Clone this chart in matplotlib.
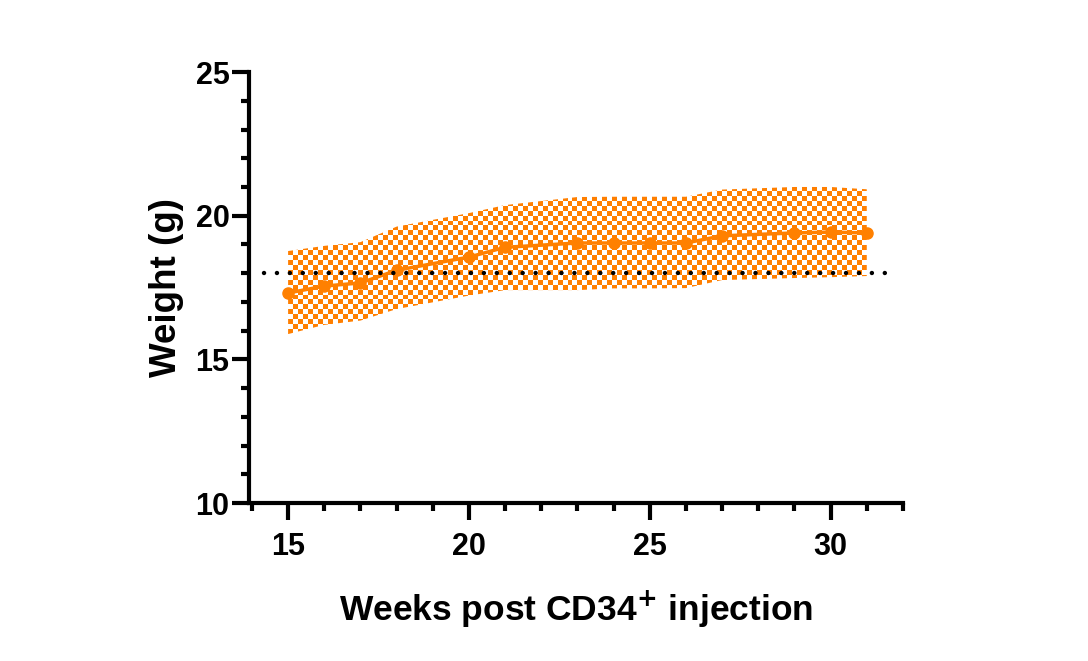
import numpy as np
import matplotlib.pyplot as plt

plt.rcParams['font.family'] = ['Liberation Sans', 'DejaVu Sans']
plt.rcParams['font.weight'] = 'bold'

# data
weeks = [15, 16, 17, 18, 20, 21, 23, 24, 25, 26, 27, 29, 30, 31]
mean_weight = [17.31, 17.55, 17.66, 18.10, 18.56, 18.90, 19.05, 19.05, 19.05, 19.05, 19.30, 19.40, 19.43, 19.40]
upper = [18.77, 18.95, 19.08, 19.62, 20.09, 20.37, 20.65, 20.66, 20.66, 20.66, 20.91, 21.0, 21.0, 20.92]
lower = [15.88, 16.20, 16.35, 16.75, 17.22, 17.41, 17.41, 17.47, 17.47, 17.48, 17.76, 17.83, 17.86, 17.90]
threshold = 18

orange = '#FF8000'

fig = plt.figure(figsize=(10.88, 6.61), dpi=100)
ax = fig.add_axes([0.2289, 0.239, 0.601, 0.652])

# checkerboard band: image clipped to the fill_between polygon
band = ax.fill_between(weeks, lower, upper, facecolor='none', edgecolor='none')
nx, ny = 116, 30
yy, xx = np.indices((ny, nx))
checker = np.zeros((ny, nx, 4))
on = (xx + yy) % 2 == 0
checker[on] = [1.0, 0.5, 0.0, 1.0]
img = ax.imshow(checker, extent=(15, 31, min(lower), max(upper)), origin='lower',
                aspect='auto', interpolation='nearest', zorder=1)
img.set_clip_path(band.get_paths()[0], transform=ax.transData)

ax.plot(weeks, mean_weight, color=orange, lw=2.5, marker='o', ms=8, zorder=3)
ax.plot([14.33, 31.55], [threshold, threshold], color='black', lw=3.2,
        linestyle=(0, (0.01, 2.9)), dash_capstyle='round', zorder=4)

ax.set_xlim(13.92, 32)
ax.set_ylim(10, 25)
ax.set_xticks([15, 20, 25, 30])
ax.set_xticks(range(14, 33), minor=True)
ax.set_yticks([10, 15, 20, 25])
ax.set_yticks(range(10, 26), minor=True)

for s in ['top', 'right']:
    ax.spines[s].set_visible(False)
for s in ['left', 'bottom']:
    ax.spines[s].set_linewidth(3)
ax.tick_params(which='major', length=12, width=3, labelsize=22)
ax.tick_params(axis='y', which='major', pad=2)
ax.tick_params(axis='x', which='major', pad=9)
ax.tick_params(which='minor', length=6, width=3)

ax.set_xlabel('Weeks post CD34$^{\\mathbf{+}}$ injection', fontsize=25.5, fontweight='bold', labelpad=19)
ax.set_ylabel('Weight (g)', fontsize=26.5, fontweight='bold', labelpad=8)

fig.savefig('out.png', dpi=100)
